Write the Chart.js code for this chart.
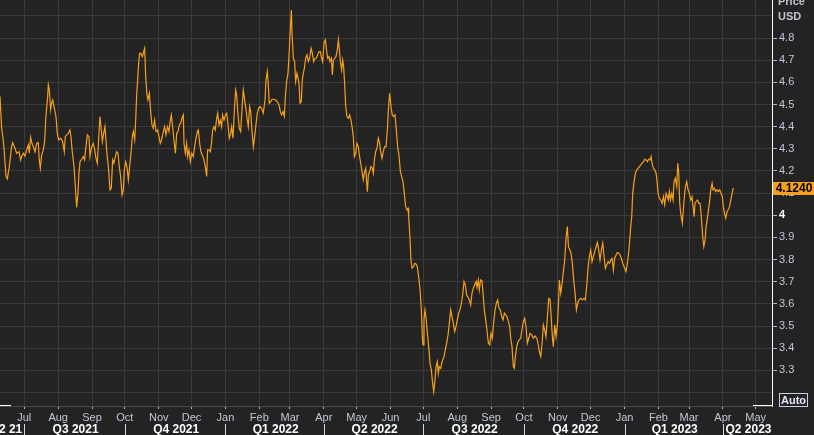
<!DOCTYPE html>
<html>
<head>
<meta charset="utf-8">
<script src="https://cdn.jsdelivr.net/npm/chart.js@4.4.0/dist/chart.umd.min.js"></script>
<style>
html, body { margin: 0; padding: 0; background: #222322; }
#wrap { width: 814px; height: 435px; }
</style>
</head>
<body>
<div id="wrap"><canvas id="priceChart" width="814" height="435"></canvas></div>
<script>
// days counted from 1 Jul 2021, one entry per reading of the close
var tradeDays = [
	-22.2,-20.7,-19.2,-18.3,-16.7,-15.5,-13.7,-11.6,-10.6,-8.5,-7.0,-4.8,-3.3,-2.4,-0.9,0.6,2.2,3.7,4.6,5.8,
	7.0,8.3,9.8,11.3,12.8,13.7,14.7,15.9,17.4,18.6,19.8,21.4,22.0,22.9,24.1,25.0,26.0,27.2,29.0,30.2,
	31.4,33.3,35.1,36.6,37.5,38.7,40.3,41.8,42.7,43.9,45.5,46.7,47.9,49.1,50.0,51.0,52.5,54.0,55.2,56.4,
	57.7,59.2,60.1,61.6,63.1,64.4,65.6,66.8,68.0,69.2,70.2,71.4,72.6,73.8,74.7,75.6,76.9,78.4,79.6,80.8,
	82.0,83.3,84.5,85.7,86.9,88.1,89.4,90.6,91.5,92.7,93.9,95.2,96.4,97.6,98.8,99.7,101.0,101.9,102.8,103.7,
	104.6,105.5,106.7,108.0,109.2,110.1,111.0,112.2,113.1,114.4,115.6,116.8,118.0,119.2,120.5,122.0,123.2,124.4,125.6,127.2,
	128.4,129.6,131.1,132.4,133.6,134.5,135.7,136.9,138.2,139.4,140.6,141.8,143.0,144.2,145.5,146.1,147.3,148.5,149.4,150.6,
	151.9,153.1,154.6,155.8,157.1,158.3,159.2,160.4,161.6,162.8,164.4,165.6,166.8,167.7,168.9,170.2,171.4,172.3,173.5,174.7,
	176.0,176.9,178.1,179.3,180.5,181.4,182.7,183.9,185.1,186.3,187.5,188.8,189.7,190.9,192.1,193.3,194.3,195.5,196.7,197.9,
	199.1,200.3,201.6,202.8,204.0,204.9,206.1,207.1,208.3,209.5,210.7,211.9,213.1,214.4,215.6,
	217.1,218.6,220.2,221.1,222.3,223.2,224.1,225.4,226.6,227.8,229.6,231.5,233.0,234.2,235.4,236.6,237.9,238.8,240.0,241.2,
	242.1,243.0,244.3,244.9,246.1,247.3,248.2,249.4,250.4,251.3,252.2,253.4,254.3,255.2,256.2,257.4,258.6,259.8,261.0,262.3,
	263.5,264.7,265.9,267.1,268.3,269.6,270.8,272.0,272.9,274.1,275.4,276.6,277.5,278.7,279.6,280.9,281.8,282.7,283.9,285.1,
	286.3,287.3,288.2,289.1,290.3,291.2,292.1,293.0,294.0,295.2,296.4,297.6,298.8,299.8,301.0,301.9,303.1,304.3,305.5,306.5,
	307.7,308.9,310.1,311.0,312.3,313.2,313.8,314.7,315.9,317.1,318.4,319.3,320.2,321.4,322.6,323.8,325.1,326.0,327.2,328.4,
	329.6,330.9,332.1,333.0,334.2,335.4,336.6,337.9,339.1,340.3,341.5,342.7,344.0,345.2,346.4,347.6,348.8,350.1,351.0,
	351.6,352.8,353.7,354.6,355.9,357.1,358.3,359.5,360.7,362.0,363.2,364.1,364.7,365.6,366.5,367.4,368.7,369.9,371.1,372.3,
	373.5,374.5,375.7,376.6,377.8,378.7,379.6,380.9,381.8,382.7,383.9,385.1,386.3,387.6,388.8,390.0,391.2,392.4,393.7,394.9,
	396.1,397.3,398.5,399.8,401.0,402.2,403.4,404.6,405.9,407.1,408.3,409.5,410.7,412.0,413.2,414.1,415.3,416.2,417.4,418.7,
	419.6,420.8,422.0,423.2,424.5,425.7,426.9,428.1,429.3,430.6,431.8,433.0,434.2,435.4,436.7,437.9,439.1,440.3,441.5,442.8,
	444.0,444.9,446.1,447.3,448.2,449.2,450.4,451.6,452.8,454.0,455.2,456.5,457.7,458.9,460.1,461.4,462.6,
	464.1,465.6,467.2,468.7,469.9,471.1,472.4,473.6,474.8,476.0,477.2,478.5,479.7,480.9,482.1,483.0,483.9,485.2,486.4,487.6,
	488.5,489.4,490.7,491.9,493.1,494.3,495.5,496.7,497.7,498.9,500.1,501.3,502.5,503.8,505.0,506.2,507.4,508.9,510.5,512.0,
	513.2,514.4,515.7,516.9,518.1,519.3,520.5,521.8,523.0,524.2,525.4,526.6,527.9,529.1,530.3,531.5,532.7,534.0,535.2,536.4,
	537.6,538.8,540.0,541.3,542.5,543.7,544.9,546.1,547.4,548.6,550.4,551.6,552.9,553.8,554.7,555.6,
	556.5,557.7,559.0,560.2,561.4,562.6,563.8,565.0,566.3,567.5,568.7,569.9,571.1,572.4,573.3,574.2,575.4,576.6,577.9,578.8,
	579.7,580.9,582.1,583.3,584.6,585.8,587.0,588.2,589.1,590.0,591.0,592.2,593.4,594.3,595.5,596.8,597.7,598.6,599.5,600.4,
	601.9,603.5,604.7,605.9,607.1,608.3,609.6,610.8,611.7,612.6,613.5,614.4,615.7,616.9,618.1,619.0,620.5,621.5,622.7,623.6,
	624.8,626.6,627.9,629.1,630.0,631.2,632.4,633.6,634.9,636.1,637.3,638.5,639.4,640.4,641.6,642.8,643.7,645.0,646.2,647.4,
	648.6
];

var closePrices = [
	4.536,4.393,4.340,4.287,4.175,4.164,4.220,4.310,4.328,4.303,4.280,4.287,4.250,4.265,4.280,4.268,4.295,4.318,4.280,4.352,
	4.325,4.310,4.287,4.325,4.328,4.250,4.212,4.272,4.295,4.333,4.446,4.536,4.589,4.566,4.476,4.506,4.521,4.491,4.446,4.370,
	4.340,4.348,4.333,4.287,4.355,4.363,4.370,4.385,4.355,4.287,4.220,4.130,4.036,4.099,4.190,4.242,4.253,4.265,4.250,4.310,
	4.363,4.355,4.265,4.310,4.325,4.295,4.257,4.235,4.340,4.446,4.400,4.333,4.370,4.400,4.340,4.280,4.220,4.114,4.122,4.250,
	4.235,4.265,4.287,4.280,4.220,4.175,4.092,4.114,4.205,4.242,4.220,4.160,4.220,4.280,4.355,4.378,4.340,4.430,4.543,4.611,
	4.686,4.731,4.731,4.716,4.739,4.754,4.634,4.543,4.521,4.551,4.468,4.408,4.393,4.430,4.378,4.385,4.355,4.325,4.340,4.378,
	4.400,4.363,4.400,4.378,4.430,4.453,4.400,4.340,4.280,4.370,4.378,4.408,4.415,4.438,4.453,4.325,4.280,4.325,4.265,4.295,
	4.242,4.280,4.265,4.310,4.348,4.378,4.385,4.325,4.287,4.272,4.250,4.220,4.175,4.295,4.295,4.287,4.333,4.385,4.400,4.385,
	4.438,4.461,4.408,4.430,4.400,4.453,4.430,4.453,4.461,4.415,4.348,4.370,4.400,4.348,4.468,4.566,4.543,4.453,4.393,4.378,
	4.476,4.566,4.521,4.476,4.430,4.400,4.491,4.468,4.378,4.310,4.355,4.408,4.461,4.483,4.491,
	4.483,4.461,4.521,4.611,4.649,4.588,4.506,4.513,4.524,4.524,4.521,4.513,4.498,4.468,4.453,4.468,4.446,4.536,4.604,4.641,
	4.716,4.807,4.927,4.822,4.709,4.694,4.604,4.641,4.619,4.596,4.506,4.513,4.611,4.641,4.664,4.709,4.724,4.694,4.709,4.754,
	4.731,4.694,4.709,4.709,4.724,4.739,4.739,4.709,4.694,4.777,4.792,4.739,4.709,4.716,4.694,4.709,4.634,4.701,4.709,4.716,
	4.747,4.792,4.747,4.694,4.656,4.701,4.671,4.596,4.491,4.446,4.438,4.453,4.430,4.400,4.355,4.265,4.280,4.325,4.310,4.272,
	4.235,4.197,4.160,4.190,4.212,4.145,4.107,4.182,4.197,4.220,4.212,4.190,4.250,4.287,4.303,4.348,4.325,4.287,4.257,4.287,
	4.310,4.310,4.385,4.476,4.551,4.491,4.453,4.446,4.453,4.385,4.310,4.272,4.197,4.175,4.152,4.099,4.039,4.024,4.032,
	3.994,3.896,3.798,3.761,3.768,3.783,3.780,3.768,3.723,3.663,3.573,3.452,3.415,3.528,3.573,3.543,3.467,3.407,3.332,3.302,
	3.242,3.204,3.257,3.317,3.339,3.287,3.317,3.309,3.332,3.347,3.362,3.392,3.422,3.460,3.513,3.573,3.543,3.513,3.475,3.498,
	3.528,3.558,3.573,3.603,3.640,3.701,3.686,3.640,3.630,3.618,3.595,3.648,3.671,3.686,3.701,3.675,3.708,3.663,3.708,3.705,
	3.648,3.573,3.528,3.482,3.422,3.415,3.467,3.445,3.513,3.573,3.603,3.618,3.580,3.573,3.543,3.528,3.558,3.550,3.543,3.520,
	3.498,3.445,3.407,3.317,3.309,3.362,3.407,3.430,3.437,3.445,3.482,3.520,3.535,3.498,3.422,3.445,3.467,
	3.460,3.445,3.455,3.445,3.422,3.385,3.362,3.422,3.505,3.482,3.452,3.543,3.625,3.621,3.528,3.452,3.407,3.505,3.452,3.505,
	3.588,3.708,3.648,3.693,3.746,3.798,3.896,3.949,3.859,3.844,3.829,3.783,3.708,3.648,3.573,3.603,3.618,3.625,3.618,3.625,
	3.618,3.678,3.768,3.814,3.844,3.791,3.814,3.836,3.859,3.877,3.844,3.798,3.844,3.874,3.814,3.761,3.776,3.791,3.783,3.798,
	3.806,3.753,3.806,3.821,3.832,3.829,3.821,3.806,3.783,3.768,3.746,3.783,3.836,3.889,3.949,3.994,
	4.099,4.152,4.190,4.205,4.212,4.220,4.227,4.235,4.242,4.253,4.250,4.242,4.253,4.250,4.265,4.235,4.212,4.205,4.190,4.152,
	4.099,4.077,4.069,4.054,4.084,4.047,4.099,4.084,4.069,4.107,4.069,4.099,4.069,4.152,4.167,4.130,4.235,4.190,4.054,4.009,
	3.964,4.069,4.130,4.152,4.115,4.099,4.069,4.084,4.039,3.994,4.054,4.062,4.069,4.054,4.054,4.009,3.904,3.859,3.889,3.949,
	3.987,4.054,4.115,4.145,4.115,4.122,4.107,4.115,4.107,4.115,4.099,4.084,4.039,4.009,3.987,4.017,4.024,4.039,4.069,4.099,
	4.124
];

// month gridlines (first of month, days from 1 Jul 2021)
var monthDays = [0, 31, 62, 92, 123, 153, 184, 215, 243, 274, 304, 335, 365, 396, 427, 457, 488, 518, 549, 580, 608, 639, 669];
var monthNames = ['Jul', 'Aug', 'Sep', 'Oct', 'Nov', 'Dec', 'Jan', 'Feb', 'Mar', 'Apr', 'May', 'Jun',
	'Jul', 'Aug', 'Sep', 'Oct', 'Nov', 'Dec', 'Jan', 'Feb', 'Mar', 'Apr', 'May'];

var quarterStarts = [-91, 0, 92, 184, 274, 365, 457, 549, 639, 730];
var quarterNames = ['Q2 21', 'Q3 2021', 'Q4 2021', 'Q1 2022', 'Q2 2022', 'Q3 2022', 'Q4 2022', 'Q1 2023', 'Q2 2023'];

var priceTicks = [3.2, 3.3, 3.4, 3.5, 3.6, 3.7, 3.8, 3.9, 4, 4.1, 4.2, 4.3, 4.4, 4.5, 4.6, 4.7, 4.8, 4.9];

var FONT = '"Liberation Sans", Arial, sans-serif';
var BG = '#222322';
var GRID = '#393a39';
var LABEL = '#c0c8da';
var ORANGE = '#f7a01c';

var points = [];
for (var i = 0; i < Math.min(tradeDays.length, closePrices.length); i++) {
	points.push({ x: tradeDays[i], y: closePrices[i] });
}
var lastPrice = closePrices[closePrices.length - 1];

var hiddenTick = function(v) {
	return v > 4.85 || v < 3.25;
};

// keep the plot flush with the canvas edges
var noScalePadding = function(scale) {
	scale.paddingTop = 0;
	scale.paddingBottom = 0;
	scale.paddingLeft = 0;
	scale.paddingRight = 0;
};

// background, quarter row, price box and the small boxes on the right
var bbgExtras = {
	id: 'bbgExtras',
	beforeDraw: function(chart) {
		var c = chart.ctx;
		c.save();
		c.fillStyle = BG;
		c.fillRect(0, 0, chart.width, chart.height);
		c.restore();
	},
	afterDraw: function(chart) {
		var c = chart.ctx;
		var xs = chart.scales.x, ys = chart.scales.y, area = chart.chartArea;
		c.save();

		// white pieces of the bottom rule
		c.strokeStyle = '#ffffff';
		c.lineWidth = 1;
		c.beginPath();
		c.moveTo(0, area.bottom - 0.5);
		c.lineTo(11, area.bottom - 0.5);
		c.moveTo(753, area.bottom - 0.5);
		c.lineTo(area.right, area.bottom - 0.5);
		c.stroke();

		// quarter row
		c.font = 'bold 12px ' + FONT;
		c.textBaseline = 'middle';
		for (var i = 0; i < quarterNames.length; i++) {
			var a = xs.getPixelForValue(quarterStarts[i]);
			var b = xs.getPixelForValue(quarterStarts[i + 1]);
			if (b < area.left || a > area.right) continue;
			if (a > area.left && a < area.right) {
				c.strokeStyle = '#d8d8d8';
				c.beginPath();
				c.moveTo(Math.round(a) + 0.5, 424);
				c.lineTo(Math.round(a) + 0.5, 435);
				c.stroke();
			}
			var l = Math.max(a, area.left), r = Math.min(b, area.right);
			var w = c.measureText(quarterNames[i]).width;
			c.fillStyle = '#ffffff';
			if (w > r - l && a < area.left) {
				c.textAlign = 'right';
				c.fillText(quarterNames[i], r - 2, 430);
			} else {
				c.textAlign = 'center';
				c.fillText(quarterNames[i], (l + r) / 2 + 1, 430);
			}
		}

		// axis title
		c.font = 'bold 11px ' + FONT;
		c.textAlign = 'left';
		c.fillStyle = '#bfc4cc';
		c.fillText('Price', 778, 2);
		c.fillText('USD', 778, 17);

		// last price box
		var py = ys.getPixelForValue(lastPrice);
		c.fillStyle = ORANGE;
		c.fillRect(area.right + 1, Math.round(py) - 6, 42, 13);
		c.fillStyle = '#000000';
		c.font = 'bold 12px ' + FONT;
		c.textAlign = 'center';
		c.fillText(lastPrice.toFixed(4), area.right + 22, Math.round(py) + 0.5);

		// Auto button
		c.strokeStyle = '#c8d0e0';
		c.strokeRect(779.5, 393.5, 28, 13);
		c.fillStyle = '#dfe6f6';
		c.font = 'bold 11px ' + FONT;
		c.fillText('Auto', 793.5, 400.5);

		c.restore();
	}
};

var ctx = document.getElementById('priceChart').getContext('2d');
var priceChart = new Chart(ctx, {
	type: 'line',
	data: {
		datasets: [{
			data: points,
			borderColor: ORANGE,
			borderWidth: 1.2,
			pointRadius: 0,
			tension: 0,
			fill: false
		}]
	},
	options: {
		responsive: false,
		animation: false,
		devicePixelRatio: 1,
		layout: { padding: 0, autoPadding: false },
		plugins: {
			legend: { display: false },
			tooltip: { enabled: false }
		},
		scales: {
			x: {
				type: 'linear',
				min: -22.2,
				max: 683.9,
				afterBuildTicks: function(scale) {
					scale.ticks = monthDays.map(function(d) { return { value: d }; });
				},
				afterFit: function(scale) {
					scale.height = 29;
					noScalePadding(scale);
				},
				grid: {
					color: GRID,
					lineWidth: 1,
					tickLength: 3,
					tickColor: '#b8b8b8'
				},
				border: { color: '#4a4a4a', width: 1 },
				ticks: {
					autoSkip: false,
					maxRotation: 0,
					padding: 2,
					color: LABEL,
					font: { family: FONT, size: 11 },
					callback: function(value, index) { return monthNames[index]; }
				}
			},
			y: {
				type: 'linear',
				position: 'right',
				min: 3.139,
				max: 4.972,
				afterBuildTicks: function(scale) {
					scale.ticks = priceTicks.map(function(v) { return { value: v }; });
				},
				afterFit: function(scale) {
					scale.width = 42;
					noScalePadding(scale);
				},
				grid: {
					color: GRID,
					lineWidth: 1,
					tickLength: 5,
					tickColor: function(c) {
						return c.tick && hiddenTick(c.tick.value) ? 'rgba(0,0,0,0)' : '#b0b8c8';
					}
				},
				border: { color: '#ffffff', width: 1 },
				ticks: {
					padding: 2,
					color: function(c) {
						return c.tick && c.tick.value === 4 ? '#ffffff' : LABEL;
					},
					font: function(c) {
						return { family: FONT, size: 11, weight: c.tick && c.tick.value === 4 ? 'bold' : 'normal' };
					},
					callback: function(value) {
						if (hiddenTick(value)) return '';
						return value === 4 ? '4' : value.toFixed(1);
					}
				}
			}
		}
	},
	plugins: [bbgExtras]
});
</script>
</body>
</html>
